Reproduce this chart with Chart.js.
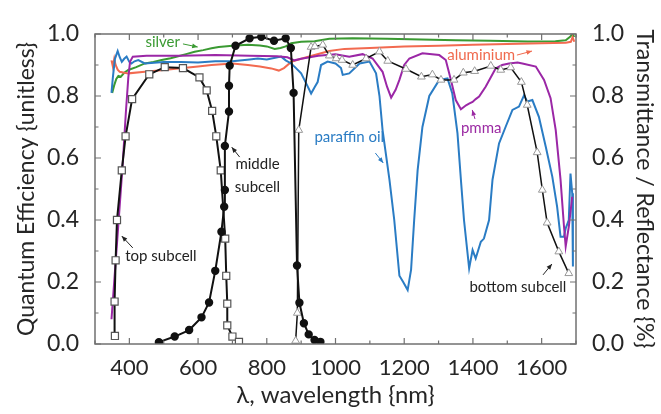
<!DOCTYPE html>
<html><head><meta charset="utf-8">
<script src="https://cdn.jsdelivr.net/npm/chart.js@4"></script>
<style>html,body{margin:0;padding:0;background:#fff}</style>
</head><body>
<canvas id="c" width="661" height="414"></canvas>
<script>
// ---- tick labels ----
const xTickValues = [400, 600, 800, 1000, 1200, 1400, 1600];
const yTickValues = [0, 0.2, 0.4, 0.6, 0.8, 1.0];

// ---- series (wavelength nm / value) ----
const topSubcellX = [358,357,360,364,378,389,408,458,503,556,604,625,641,653,666,679,682,685,685,700,719];
const topSubcellY = [0.026,0.137,0.27,0.40,0.56,0.67,0.79,0.87,0.893,0.89,0.86,0.818,0.752,0.67,0.56,0.34,0.22,0.13,0.06,0.024,0.007];

const middleSubcellX = [486,532,574,610,632,650,668,676,678,678,690,690,692,709,750,784,821,855,870,878,888,895,908,922,939,956];
const middleSubcellY = [0.006,0.024,0.045,0.086,0.134,0.236,0.362,0.443,0.497,0.639,0.75,0.833,0.898,0.962,0.986,0.991,0.978,0.986,0.955,0.81,0.253,0.133,0.067,0.031,0.013,0.007];

const bottomSubcellX = [884,889,893,929,940,963,982,1002,1019,1050,1089,1128,1152,1205,1250,1282,1307,1345,1372,1405,1452,1481,1510,1541,1558,1587,1602,1616,1650,1679];
const bottomSubcellY = [0.01,0.10,0.69,0.958,0.96,0.965,0.93,0.921,0.916,0.90,0.921,0.943,0.913,0.887,0.862,0.869,0.852,0.852,0.875,0.88,0.897,0.884,0.892,0.845,0.771,0.618,0.497,0.391,0.298,0.228];

const silverX = [350,356,362,368,375,385,397,420,445,470,494,520,542,565,590,615,639,660,700,745,780,800,823,840,855,871,900,939,982,1050,1150,1250,1350,1450,1560,1640,1670,1682,1690,1695];
const silverY = [0.81,0.835,0.855,0.865,0.862,0.875,0.884,0.893,0.905,0.91,0.916,0.922,0.928,0.935,0.943,0.948,0.954,0.958,0.962,0.965,0.963,0.96,0.952,0.955,0.96,0.97,0.975,0.977,0.985,0.986,0.985,0.982,0.98,0.978,0.976,0.977,0.98,0.99,1.0,0.99];

const aluminiumX = [348,352,356,360,366,372,385,397,445,500,542,600,639,700,745,780,813,835,850,871,900,939,982,1026,1100,1200,1300,1400,1500,1600,1670,1685,1690,1695];
const aluminiumY = [0.915,0.895,0.92,0.9,0.885,0.878,0.875,0.873,0.878,0.884,0.889,0.895,0.9,0.905,0.9,0.895,0.889,0.882,0.89,0.91,0.92,0.932,0.945,0.952,0.955,0.96,0.962,0.965,0.968,0.97,0.972,0.975,0.99,0.975];

const pmmaX = [348,365,380,390,397,402,410,450,550,650,750,830,860,880,900,950,1000,1040,1079,1108,1137,1150,1162,1175,1186,1200,1215,1253,1302,1321,1336,1350,1365,1380,1390,1399,1408,1418,1437,1466,1485,1505,1530,1544,1583,1607,1626,1641,1655,1665,1670,1679,1689];
const pmmaY = [0.08,0.34,0.57,0.75,0.86,0.91,0.927,0.93,0.93,0.932,0.93,0.928,0.925,0.915,0.92,0.93,0.935,0.927,0.935,0.921,0.878,0.83,0.795,0.82,0.852,0.9,0.921,0.938,0.932,0.916,0.852,0.787,0.757,0.77,0.776,0.781,0.79,0.798,0.83,0.889,0.9,0.905,0.908,0.905,0.895,0.852,0.793,0.69,0.53,0.38,0.315,0.378,0.475];

const paraffinX = [348,352,358,366,372,378,385,392,400,406,415,426,445,500,550,600,650,700,750,774,800,842,855,871,885,900,915,929,940,948,958,977,1000,1016,1021,1040,1070,1099,1118,1128,1137,1157,1171,1186,1197,1210,1220,1229,1239,1253,1273,1302,1326,1340,1355,1365,1374,1389,1399,1408,1423,1432,1447,1457,1476,1495,1515,1534,1549,1558,1573,1592,1612,1631,1645,1655,1665,1670,1679,1684,1689,1691];
const paraffinY = [0.81,0.86,0.92,0.945,0.925,0.91,0.92,0.927,0.91,0.905,0.912,0.916,0.905,0.91,0.91,0.908,0.912,0.912,0.918,0.921,0.918,0.927,0.915,0.905,0.89,0.873,0.84,0.808,0.83,0.845,0.9,0.911,0.905,0.89,0.868,0.873,0.905,0.911,0.873,0.80,0.69,0.53,0.40,0.22,0.20,0.174,0.24,0.40,0.56,0.70,0.80,0.852,0.857,0.808,0.68,0.53,0.40,0.244,0.303,0.276,0.33,0.34,0.40,0.53,0.647,0.70,0.755,0.766,0.803,0.782,0.787,0.733,0.636,0.54,0.443,0.346,0.346,0.373,0.40,0.55,0.486,0.25];

// ---- annotation texts (data coordinates) ----
const labelTexts  = ['silver','aluminium','pmma','paraffin oil','middle','subcell','top subcell','bottom subcell'];
const labelX      = [497,1424,1424,1040,773,773,492,1531];
const labelY      = [0.974,0.932,0.697,0.668,0.58,0.506,0.284,0.184];
const labelColors = ['#3a9a32','#f06a4e','#9b2aa3','#2a7cc4','#222','#222','#222','#222'];
// arrows: from (x1,y1) to (x2,y2)
const arrowX1 = [556,1528,1406,1116,721,410,1604];
const arrowY1 = [0.968,0.932,0.726,0.616,0.603,0.31,0.223];
const arrowX2 = [599,1572,1398,1139,698,378,1630];
const arrowY2 = [0.958,0.945,0.755,0.584,0.635,0.348,0.258];
const arrowColors = ['#3a9a32','#f06a4e','#9b2aa3','#2a7cc4','#222','#222','#222'];

const zip = (xs, ys) => xs.map((x, i) => ({x, y: ys[i]}));
const FONT = 'Lato, "Open Sans", sans-serif';
const TXT = '#262626';

const framePlugin = {
  id: 'frame',
  afterDatasetsDraw(chart) {
    const {ctx, chartArea: a, scales: {x, y}} = chart;
    ctx.save();
    ctx.strokeStyle = '#707070';
    ctx.lineWidth = 1.5;
    ctx.strokeRect(a.left, a.top, a.right - a.left, a.bottom - a.top);
    ctx.lineWidth = 1.2;
    ctx.beginPath();
    for (let v = 300; v <= 1700; v += 100) {
      const px = x.getPixelForValue(v);
      const len = (v % 200 === 0) ? 6 : 3.5;
      ctx.moveTo(px, a.bottom); ctx.lineTo(px, a.bottom - len);
      ctx.moveTo(px, a.top); ctx.lineTo(px, a.top + len);
    }
    for (let k = 0; k <= 10; k++) {
      const py = y.getPixelForValue(k / 10);
      const len = (k % 2 === 0) ? 6 : 3.5;
      ctx.moveTo(a.left, py); ctx.lineTo(a.left + len, py);
      ctx.moveTo(a.right, py); ctx.lineTo(a.right - len, py);
    }
    ctx.stroke();
    // annotations
    ctx.font = '15px ' + FONT;
    ctx.textAlign = 'center';
    ctx.textBaseline = 'middle';
    labelTexts.forEach((t, i) => {
      ctx.fillStyle = labelColors[i];
      ctx.fillText(t, x.getPixelForValue(labelX[i]), y.getPixelForValue(labelY[i]));
    });
    arrowX1.forEach((_, i) => {
      const x1 = x.getPixelForValue(arrowX1[i]), y1 = y.getPixelForValue(arrowY1[i]);
      const x2 = x.getPixelForValue(arrowX2[i]), y2 = y.getPixelForValue(arrowY2[i]);
      const ang = Math.atan2(y2 - y1, x2 - x1);
      ctx.strokeStyle = arrowColors[i]; ctx.fillStyle = arrowColors[i];
      ctx.lineWidth = 1;
      ctx.beginPath(); ctx.moveTo(x1, y1); ctx.lineTo(x2, y2); ctx.stroke();
      ctx.beginPath();
      ctx.moveTo(x2, y2);
      ctx.lineTo(x2 - 6 * Math.cos(ang - 0.4), y2 - 6 * Math.sin(ang - 0.4));
      ctx.lineTo(x2 - 6 * Math.cos(ang + 0.4), y2 - 6 * Math.sin(ang + 0.4));
      ctx.closePath(); ctx.fill();
    });
    ctx.restore();
  }
};

const lineDs = (label, xs, ys, color, order) => ({
  label, data: zip(xs, ys), borderColor: color, backgroundColor: color,
  borderWidth: 2, pointRadius: 0, showLine: true, tension: 0, order, yAxisID: 'y2'
});

new Chart(document.getElementById('c'), {
  type: 'scatter',
  data: {
    datasets: [
      {label: 'top subcell', data: zip(topSubcellX, topSubcellY), showLine: true, borderColor: '#111', borderWidth: 2,
       pointStyle: 'rect', pointRadius: 5, pointBackgroundColor: '#fff', pointBorderColor: '#555', pointBorderWidth: 1.2, order: 2, yAxisID: 'y'},
      {label: 'middle subcell', data: zip(middleSubcellX, middleSubcellY), showLine: true, borderColor: '#111', borderWidth: 2,
       pointStyle: 'circle', pointRadius: 3.2, pointBackgroundColor: '#111', pointBorderColor: '#111', order: 1, yAxisID: 'y'},
      {label: 'bottom subcell', data: zip(bottomSubcellX, bottomSubcellY), showLine: true, borderColor: '#111', borderWidth: 1.5,
       pointStyle: 'triangle', pointRadius: 4.5, pointBackgroundColor: '#fff', pointBorderColor: '#999', pointBorderWidth: 1, order: 3, yAxisID: 'y'},
      lineDs('silver', silverX, silverY, '#3a9a32', 7),
      lineDs('aluminium', aluminiumX, aluminiumY, '#f26a50', 6),
      lineDs('paraffin oil', paraffinX, paraffinY, '#2a7cc4', 5),
      lineDs('pmma', pmmaX, pmmaY, '#9b27a6', 4)
    ]
  },
  options: {
    responsive: false, animation: false, devicePixelRatio: 1,
    layout: {padding: {top: 34, left: 0, right: 0, bottom: 0}},
    plugins: {legend: {display: false}, tooltip: {enabled: false}},
    scales: {
      x: {
        type: 'linear', position: 'bottom', min: 300, max: 1700,
        grid: {display: false}, border: {display: false},
        afterBuildTicks: s => { s.ticks = xTickValues.map(v => ({value: v})); },
        afterFit: s => { s.height = 70; },
        ticks: {color: TXT, font: {family: FONT, size: 22}, padding: 3, maxRotation: 0, callback: v => String(v)},
        title: {display: true, text: 'λ, wavelength {nm}', color: TXT, font: {family: FONT, size: 24}, padding: {top: 0, bottom: 4}}
      },
      y: {
        type: 'linear', position: 'left', min: 0, max: 1,
        grid: {display: false}, border: {display: false},
        afterBuildTicks: s => { s.ticks = yTickValues.map(v => ({value: v})); },
        afterFit: s => { s.width = 95; },
        ticks: {color: TXT, font: {family: FONT, size: 23}, padding: 8, callback: v => v.toFixed(1)},
        title: {display: true, text: 'Quantum Efficiency {unitless}', color: TXT, font: {family: FONT, size: 23}, padding: {top: 13, bottom: 0}}
      },
      y2: {
        type: 'linear', position: 'right', min: 0, max: 1,
        grid: {display: false}, border: {display: false},
        afterBuildTicks: s => { s.ticks = yTickValues.map(v => ({value: v})); },
        afterFit: s => { s.width = 85; },
        ticks: {color: TXT, font: {family: FONT, size: 23}, padding: 8, callback: v => v.toFixed(1)},
        title: {display: true, text: 'Transmittance / Reflectance {%}', color: TXT, font: {family: FONT, size: 23}, padding: {top: 3, bottom: 0}}
      }
    }
  },
  plugins: [framePlugin]
});
</script>
</body></html>
